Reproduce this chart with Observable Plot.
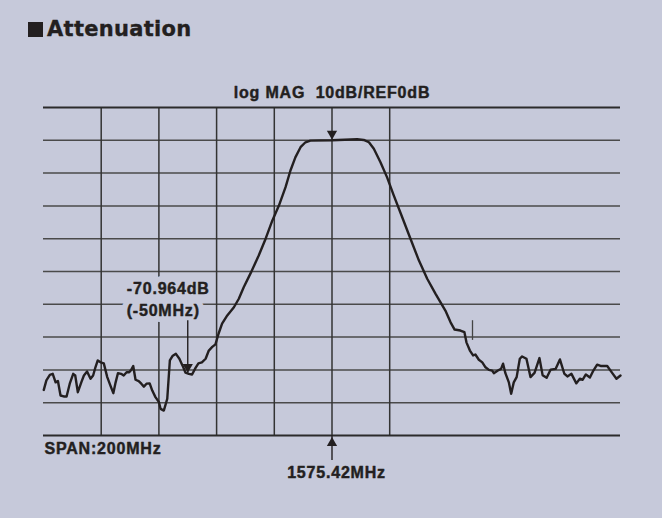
<!DOCTYPE html>
<html>
<head>
<meta charset="utf-8">
<script src="https://cdn.jsdelivr.net/npm/d3@7"></script>
<script src="https://cdn.jsdelivr.net/npm/@observablehq/plot@0.6"></script>
<style>
  html, body { margin: 0; padding: 0; background: #c6c9da; }
  #wrap { width: 662px; height: 518px; overflow: hidden; background: #c6c9da; }
  #title { position: relative; height: 50px; }
  #title .sq { position: absolute; left: 28px; top: 22px; width: 15px; height: 15px; background: #231f20; }
  #title .t { position: absolute; left: 47px; top: 19px; font: bold 21px "DejaVu Sans", sans-serif; line-height: 1; color: #231f20; letter-spacing: 0.3px; white-space: nowrap; -webkit-text-stroke: 0.35px #231f20; }
  svg { display: block; }
</style>
</head>
<body>
<div id="wrap">
  <div id="title"><span class="sq"></span><span class="t">Attenuation</span></div>
  <div id="chart"></div>
</div>
<script>
// Frequency offset from centre 1575.42 MHz (MHz)
const freqOffsetMHz = [-99.9,-99.0,-97.8,-96.8,-95.8,-95.0,-94.1,-93.0,-92.0,-90.9,
  -89.7,-89.0,-88.1,-86.9,-86.0,-84.9,-83.7,-82.8,-82.0,-81.2,
  -80.2,-79.1,-77.9,-76.8,-75.8,-75.0,-74.2,-73.1,-72.2,-71.2,
  -70.3,-69.6,-68.9,-68.1,-67.0,-66.1,-65.2,-64.3,-63.2,-62.3,
  -61.2,-60.0,-59.4,-58.3,-57.1,-56.2,-55.3,-54.1,-52.9,-51.8,
  -50.8,-49.6,-48.5,-47.3,-46.3,-45.1,-43.8,-42.7,-41.5,-40.4,
  -39.3,-38.1,-36.3,-34.0,-32.3,-30.6,-28.2,-25.4,-23.0,-20.7,
  -18.4,-16.1,-14.4,-12.7,-10.9,-9.2,-7.5,0,8.7,11.0,
  12.8,14.5,16.8,19.1,21.4,24.3,27.2,30.1,33.0,35.9,
  39.3,41.1,42.5,44.5,45.9,46.6,47.8,48.9,49.7,50.9,
  52.1,53.2,54.4,55.5,56.1,57.5,58.6,59.3,60.1,61.3,
  62.1,63.0,64.0,65.1,65.9,67.4,68.8,70.2,71.9,73.0,
  74.4,75.8,77.5,79.0,80.5,81.6,83.0,84.7,85.9,86.9,
  88.0,89.4,90.6,91.9,93.1,95.4,97.1,98.6,100];
// Measured level (dB)
const levelDb = [-76.1,-73.2,-71.5,-71.2,-73.8,-73.4,-77.8,-78.1,-78.1,-74.2,
  -71.2,-71.7,-76.8,-73.8,-71.7,-70.5,-72.7,-71.7,-69.2,-67.1,
  -67.7,-68.0,-72.2,-74.8,-77.1,-73.8,-71.0,-71.2,-71.7,-70.7,
  -70.7,-70.0,-68.8,-73.0,-73.4,-74.2,-75.1,-74.2,-74.1,-76.3,
  -78.3,-79.8,-81.9,-82.4,-78.8,-67.1,-65.8,-65.1,-66.6,-68.7,
  -70.8,-71.2,-71.4,-69.4,-68.0,-67.7,-66.6,-64.1,-63.0,-62.2,
  -58.9,-55.9,-53.4,-50.9,-48.3,-44.8,-40.5,-35.1,-30.0,-24.5,
  -19.9,-14.3,-9.2,-5.2,-2.1,-0.6,-0.1,0,0.3,0.1,
  -0.6,-2.6,-6.7,-11.3,-16.8,-23.4,-30.0,-36.6,-42.2,-46.8,
  -51.9,-55.5,-57.7,-58.0,-58.5,-61.6,-64.1,-65.6,-65.3,-66.9,
  -67.7,-69.2,-70.0,-70.2,-71.0,-70.2,-69.7,-68.1,-71.0,-73.8,
  -77.3,-73.8,-72.2,-66.6,-65.9,-66.6,-72.2,-70.9,-66.4,-71.6,
  -72.4,-69.9,-69.7,-66.8,-71.1,-72.0,-71.2,-74.1,-72.7,-73.0,
  -71.4,-72.3,-70.2,-68.4,-68.8,-68.8,-70.9,-72.7,-71.7];

const gridDb = [10,0,-10,-20,-30,-40,-50,-60,-70,-80,-90];
const gridMHz = [-80,-60,-40,-20,0,20];

const headerLabel = "log MAG  10dB/REF0dB";
const spanLabel = "SPAN:200MHz";
const centerLabel = "1575.42MHz";

// Markers
const refMarker = [{f: 0, db: 0}];
const measMarker = [{f: -50, db: -70.964, label1: "-70.964dB", label2: "(-50MHz)", stemTop: -55}];
const centerMarker = [{f: 0, db: -90, stemBottom: -97.6}];
const tickMarker = [{f: 48.7, top: -55, bottom: -61}];

const trace = freqOffsetMHz.map((f, i) => ({f, db: levelDb[i]}));

const ink = "#231f20";
const bg = "#c6c9da";
const font = "'Liberation Sans', Arial, Helvetica, sans-serif";
const txt = {fontSize: 16, fontWeight: "bold", fill: ink, stroke: ink, strokeWidth: 0.45, fontFamily: font};

const chart = Plot.plot({
  width: 662,
  height: 468,
  marginTop: 57,
  marginBottom: 83,
  marginLeft: 43,
  marginRight: 42,
  x: {domain: [-100, 100], axis: null},
  y: {domain: [-90, 10], axis: null},
  style: {background: "transparent", fontFamily: font, letterSpacing: "0.8px", overflow: "visible"},
  marks: [
    Plot.ruleY(gridDb.filter(d => d !== 10 && d !== -90), {stroke: "#4a4a4a", strokeWidth: 1.5}),
    Plot.ruleX(gridMHz, {y1: -90, y2: 10, stroke: "#333", strokeWidth: 1.5}),
    Plot.ruleY([10, -90], {stroke: "#2b2b2b", strokeWidth: 2}),
    Plot.ruleX(tickMarker, {x: "f", y1: "top", y2: "bottom", stroke: "#444", strokeWidth: 1.3}),
    // halo masking the grid behind the marker labels
    Plot.text(measMarker, {x: "f", y: "db", text: "label1", dx: -19.5, dy: -78.6, lineAnchor: "bottom",
      fontSize: 16, fontWeight: "bold", fill: bg, stroke: bg, strokeWidth: 12, fontFamily: font}),
    Plot.text(measMarker, {x: "f", y: "db", text: "label2", dx: -24.5, dy: -57, lineAnchor: "bottom",
      fontSize: 16, fontWeight: "bold", fill: bg, stroke: bg, strokeWidth: 12, fontFamily: font}),
    Plot.text(measMarker, {x: "f", y: "db", text: "label1", dx: -19.5, dy: -78.6, lineAnchor: "bottom", ...txt}),
    Plot.text(measMarker, {x: "f", y: "db", text: "label2", dx: -24.5, dy: -57, lineAnchor: "bottom", ...txt}),
    Plot.line(trace, {x: "f", y: "db", stroke: ink, strokeWidth: 2.4, strokeLinejoin: "round"}),
    // measurement marker arrow
    Plot.ruleX(measMarker, {x: "f", y1: "stemTop", y2: "db", stroke: ink, strokeWidth: 1.4}),
    Plot.dot(measMarker, {x: "f", y: "db", dy: -6, symbol: "triangle", rotate: 180, r: 3.8, fill: ink, stroke: "none"}),
    // reference marker
    Plot.dot(refMarker, {x: "f", y: "db", dy: -6.5, symbol: "triangle", rotate: 180, r: 3.8, fill: ink, stroke: "none"}),
    // centre marker arrow
    Plot.ruleX(centerMarker, {x: "f", y1: "db", y2: "stemBottom", stroke: ink, strokeWidth: 1.4, clip: false}),
    Plot.dot(centerMarker, {x: "f", y: "db", dy: 7.5, symbol: "triangle", r: 3.8, fill: ink, stroke: "none"}),
    // texts
    Plot.text([headerLabel], {x: 0, y: 10, text: d => d, dy: -10, lineAnchor: "bottom", ...txt}),
    Plot.text([spanLabel], {x: -100, y: -90, text: d => d, dx: 1, dy: 18, lineAnchor: "bottom", textAnchor: "start", ...txt}),
    Plot.text([centerLabel], {x: 0, y: -90, text: d => d, dx: 4.5, dy: 42.7, lineAnchor: "bottom", ...txt})
  ]
});
document.getElementById("chart").appendChild(chart);
</script>
</body>
</html>
